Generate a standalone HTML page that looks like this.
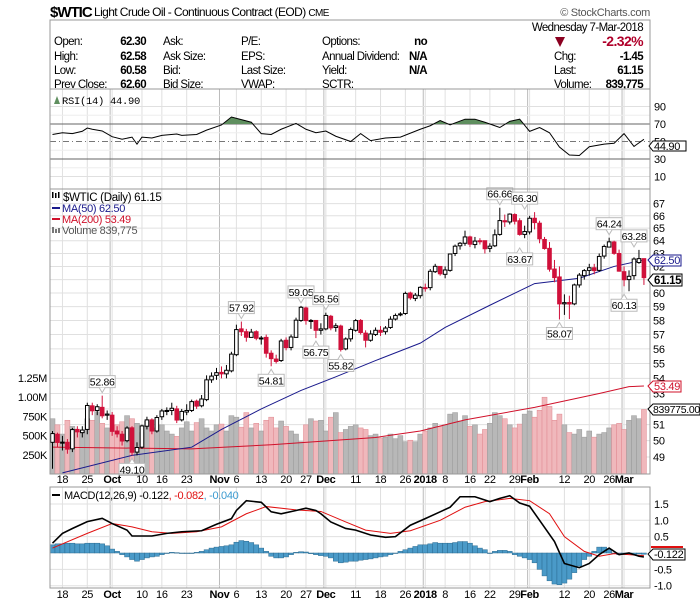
<!DOCTYPE html>
<html><head><meta charset="utf-8">
<style>
html,body{margin:0;padding:0;background:#fff;}
svg{display:block;font-family:"Liberation Sans Narrow","Liberation Sans",sans-serif;}
text{letter-spacing:-0.3px;}
.hdr text{letter-spacing:-0.6px;}
</style></head>
<body>
<svg id="chart" width="700" height="603" viewBox="0 0 700 603" xmlns="http://www.w3.org/2000/svg">
  <text x="50" y="17" font-size="15" font-weight="bold" font-family="Liberation Sans, sans-serif" style="letter-spacing:-1px">$WTIC</text>
  <text x="94" y="16" font-size="12" style="letter-spacing:-0.6px">Light Crude Oil - Continuous Contract (EOD) <tspan font-size="10">CME</tspan></text>
  <text x="650" y="16" font-size="11" fill="#555" text-anchor="end">© StockCharts.com</text>
  <rect x="50" y="20" width="600" height="69" fill="#fff" stroke="#999"/>
  <g class="hdr" font-size="11.5">
    <text x="643" y="31" text-anchor="end">Wednesday  7-Mar-2018</text>
    <text x="54" y="45">Open:</text><text x="146" y="45" text-anchor="end" font-weight="bold">62.30</text>
    <text x="54" y="60">High:</text><text x="146" y="60" text-anchor="end" font-weight="bold">62.58</text>
    <text x="54" y="74">Low:</text><text x="146" y="74" text-anchor="end" font-weight="bold">60.58</text>
    <text x="54" y="88">Prev Close:</text><text x="146" y="88" text-anchor="end" font-weight="bold">62.60</text>
    <text x="163" y="45">Ask:</text><text x="163" y="60">Ask Size:</text><text x="163" y="74">Bid:</text><text x="163" y="88">Bid Size:</text>
    <text x="241" y="45">P/E:</text><text x="241" y="60">EPS:</text><text x="241" y="74">Last Size:</text><text x="241" y="88">VWAP:</text>
    <text x="322" y="45">Options:</text><text x="322" y="60">Annual Dividend:</text><text x="322" y="74">Yield:</text><text x="322" y="88">SCTR:</text>
    <text x="427" y="45" text-anchor="end" font-weight="bold">no</text>
    <text x="427" y="60" text-anchor="end" font-weight="bold">N/A</text>
    <text x="427" y="74" text-anchor="end" font-weight="bold">N/A</text>
    <polygon points="555,37 565,37 560,47" fill="#8b0020"/>
    <text x="643" y="46" text-anchor="end" font-weight="bold" font-size="14" fill="#b0002a">-2.32%</text>
    <text x="554" y="60">Chg:</text><text x="643" y="60" text-anchor="end" font-weight="bold">-1.45</text>
    <text x="554" y="74">Last:</text><text x="643" y="74" text-anchor="end" font-weight="bold">61.15</text>
    <text x="554" y="88">Volume:</text><text x="643" y="88" text-anchor="end" font-weight="bold">839,775</text>
  </g>
  <g id="plots"></g>
</svg>
<script>
// ===== data =====
const openP = [49.9,50.4,49.9,49.9,49.5,50.7,50.5,50.7,52.2,51.9,52.1,51.6,
51.6,50.6,50.4,50.0,50.8,49.3,49.6,50.9,51.3,50.6,51.5,51.9,
51.9,52.0,51.3,51.8,51.9,52.5,52.2,52.6,53.9,54.2,54.4,54.3,
54.5,55.6,57.4,57.2,56.8,57.2,56.7,56.8,55.7,55.3,55.2,56.6,
56.1,56.8,58.0,58.9,58.0,58.0,57.3,57.4,58.3,57.5,57.6,56.0,
56.7,57.3,58.0,57.1,56.6,57.0,57.3,57.2,57.5,58.1,58.4,58.5,
60.0,59.6,59.8,60.4,60.4,61.6,62.0,61.4,61.7,63.0,63.6,63.8,
64.3,63.7,64.0,64.0,63.4,63.6,64.5,65.6,65.5,66.1,65.6,64.5,
64.7,65.8,65.4,64.1,63.4,61.8,61.2,59.2,59.3,59.2,60.6,61.3,
61.7,61.9,61.7,62.8,63.5,63.9,63.0,61.6,61.0,61.3,62.3,62.6];
const highP = [50.6,50.5,50.3,50.1,50.8,50.9,50.9,52.4,52.4,52.3,52.86,51.9,
51.8,50.9,50.6,50.9,50.9,49.9,51.0,51.5,51.4,51.6,52.0,52.1,
52.4,52.2,52.0,52.3,52.6,52.6,52.9,54.2,54.4,54.7,54.8,54.9,
55.8,57.7,57.92,57.4,57.4,57.3,56.9,57.0,55.9,55.6,56.7,56.8,
57.0,58.2,59.05,59.0,58.1,58.0,57.8,58.56,58.4,57.8,57.7,56.8,
57.5,58.1,58.1,57.3,57.3,57.5,57.6,57.6,58.3,58.5,58.6,60.1,
60.1,60.0,60.5,60.7,61.8,62.2,62.0,62.0,63.0,63.7,63.9,64.8,
64.4,64.3,64.2,64.0,63.8,64.9,66.66,66.1,66.2,66.2,65.8,65.2,
66.0,66.30,65.6,64.3,63.9,62.5,62.0,59.9,59.8,60.7,61.5,61.8,
62.2,62.2,63.0,63.7,64.24,64.0,63.3,62.0,61.7,62.7,63.28,62.6];
const lowP = [48.3,49.6,49.4,49.2,49.3,50.2,50.2,50.4,51.6,51.6,51.4,51.3,
50.3,50.2,49.7,49.9,49.10,49.1,49.5,50.7,50.4,50.5,51.3,51.6,
51.6,51.1,51.2,51.6,51.8,52.0,52.1,52.5,53.7,53.9,54.0,54.0,
54.4,55.5,56.9,56.5,56.8,56.6,56.3,55.4,54.81,55.0,55.1,55.9,
55.9,56.8,57.9,57.7,57.4,56.75,57.0,57.3,57.3,57.2,55.82,55.9,
56.5,57.2,57.0,56.1,56.5,56.9,56.9,57.0,57.4,58.0,58.3,58.4,
59.5,59.4,59.6,60.1,60.2,61.5,61.3,61.1,61.6,62.8,63.3,63.6,
63.5,63.4,63.7,63.0,63.1,63.5,64.4,65.1,65.3,65.3,64.4,64.2,
64.5,64.9,63.8,63.3,61.6,60.8,58.07,58.4,58.1,59.1,60.4,61.0,
61.3,61.4,61.6,62.6,63.5,62.9,61.6,60.5,60.13,61.0,62.2,60.6];
const closeP = [50.44,49.89,49.91,49.48,50.69,50.55,50.66,52.22,51.88,52.14,51.56,51.67,
50.58,50.42,49.98,50.79,49.29,49.58,50.92,51.30,50.60,51.45,51.87,51.88,
52.04,51.29,51.84,51.90,52.47,52.18,52.64,53.90,54.15,54.38,54.30,54.54,
55.64,57.35,57.20,56.81,57.17,56.74,56.76,55.70,55.33,55.14,56.55,56.09,
56.83,58.02,58.95,57.99,57.99,57.30,57.40,58.36,57.47,57.62,55.96,56.69,
57.36,57.99,57.14,56.60,57.04,57.30,57.16,57.46,58.09,58.36,58.47,59.97,
59.64,59.84,60.42,60.37,61.63,62.01,61.44,61.73,62.96,63.57,63.80,64.30,
63.73,63.97,63.95,63.37,63.57,64.47,65.61,65.51,66.14,65.56,64.50,64.73,
65.80,65.45,64.15,63.39,61.79,61.15,59.20,59.29,59.19,60.60,61.34,61.68,
61.90,61.68,62.77,63.55,63.91,63.01,61.64,60.99,61.25,62.57,62.60,61.15];
const volumeK = [720,640,520,700,620,560,530,720,700,810,660,600,
560,640,680,760,720,660,540,690,600,570,640,560,
520,490,600,680,560,670,720,600,560,640,650,560,
760,740,610,800,600,660,560,700,740,600,690,620,
560,520,420,640,720,690,700,560,740,800,540,580,
620,640,600,580,500,520,470,480,520,460,500,420,
440,420,520,560,600,660,620,640,780,800,690,760,
620,640,520,580,660,800,760,720,640,600,650,780,
820,740,830,1000,880,700,780,640,540,520,580,480,
560,480,520,540,600,640,660,580,700,760,720,840];
const ma50Idx = [2,16,28,34,42,50,57,65,74,79,88,97,106,113,119];
const ma50Val = [48.05,49.1,49.6,50.7,52.0,53.2,54.1,55.2,56.4,57.5,59.1,60.7,61.1,62.0,62.5];
const ma200Idx = [0,28,44,65,74,83,97,110,116,119];
const ma200Val = [49.6,49.5,49.75,50.2,50.6,51.3,52.1,53.0,53.45,53.49];
const rsiIdx = [0,2,4,6,7,8,10,12,14,16,17,18,20,22,25,26,29,31,34,36,38,40,42,44,46,49,51,53,55,57,60,62,64,67,70,74,76,78,80,83,85,87,90,92,94,96,98,100,102,104,106,108,111,113,115,117,119];
const rsiVal = [58,60,59,61.7,65.4,64,62,55.5,52.6,55,47,55,54,57,58.6,57,58,63,68.9,78,75,72,59,58,64,70.7,64,60,62,56,50,59,51,54,55,64,68,74,69,75.5,75.5,72,66,73,75.5,61.6,66,60,43.7,34.6,34,44,47,48,59,44.4,52.5];
const macdIdx = [0,2,4,7,10,12,15,16,20,23,26,30,33,36,37,39,42,44,46,49,51,53,54,56,59,61,64,67,69,72,75,78,80,82,85,88,90,92,94,96,98,101,103,106,108,110,112,114,116,118,119];
const macdVal = [0.30,0.6,0.75,0.96,1.06,0.9,0.7,0.52,0.52,0.6,0.65,0.68,0.88,1.05,1.3,1.6,1.55,1.26,1.2,1.3,1.37,1.3,1.2,0.95,0.75,0.7,0.55,0.48,0.5,0.85,1.05,1.26,1.4,1.72,1.72,1.57,1.67,1.75,1.53,1.43,1.0,0.35,-0.32,-0.45,-0.32,-0.05,0.15,-0.05,0.0,-0.1,-0.122];
const signalIdx = [0,7,12,16,20,24,29,34,39,43,49,54,59,63,68,72,78,83,87,92,96,100,103,107,110,113,119];
const signalVal = [0.15,0.6,0.9,0.8,0.65,0.6,0.65,0.8,1.2,1.42,1.32,1.27,0.95,0.7,0.6,0.68,1.0,1.4,1.57,1.67,1.6,1.2,0.5,0.05,-0.1,-0.02,-0.082];
const histVal = [.25,.28,.28,.3,.3,.28,.28,.3,.3,.3,.28,.22,
.12,.05,-.05,-.12,-.2,-.25,-.2,-.15,-.12,-.1,-.05,0,
.02,.01,0,-.01,0,.02,.05,.1,.15,.18,.2,.22,
.25,.33,.38,.36,.32,.25,.15,.05,-.1,-.15,-.15,-.12,
-.05,.02,.04,.03,-.02,-.05,-.08,-.1,-.15,-.25,-.3,-.28,
-.25,-.25,-.22,-.2,-.18,-.15,-.12,-.1,-.05,0,.05,.1,
.15,.2,.25,.25,.28,.32,.3,.3,.3,.32,.35,.35,
.3,.22,.15,.1,0,.05,.08,.08,.05,-.05,-.1,-.15,
-.2,-.3,-.5,-.7,-.85,-.95,-.97,-.92,-.8,-.6,-.4,-.2,
-.1,.05,.18,.18,.1,-.02,-.05,-.05,-.05,-.04,-.03,-.04];
const dateIdx = [2,7,12,18,22,27,37,42,47,51,55,61,66,71,75,79,84,88,93,96,103,108,112,115];
const dateText = ['18','25','Oct','10','16','23','6','13','20','27','Dec','11','18','26','2018','8','16','22','29','Feb','12','20','26','Mar'];
const monthIdx = [12,34,55,75,96,115];
const priceTicks = [49,50,51,52,53,54,55,56,57,58,59,60,61,62,63,64,65,66,67];
const volTicks = [250,500,750,1000,1250];
const volTickText = ['250K','500K','750K','1.00M','1.25M'];
const rsiTicks = [10,30,50,70,90];
const macdTicks = [-1.0,-0.5,0.5,1.0,1.5];
const macdTickText = ['-1.0','-0.5','0.5','1.0','1.5'];
const priceTagIdx = [10,16,38,44,50,53,58,55,90,95,94,102,112,115,117];
const priceTagVal = [52.86,49.10,57.92,54.81,59.05,56.75,55.82,58.56,66.66,66.30,63.67,58.07,64.24,60.13,63.28];
const priceTagUp = [1,0,1,0,1,0,0,1,1,1,0,0,1,0,1];

// ===== axes =====
const L=50,R=650;
const X = i => 52.5 + i*4.97;
const Y = v => 293 - (Math.log(v)-Math.log(60))*810;
const VY = k => 474 - k/1250*96;
const RY = v => 159 - (v-30)*0.875;
const MY = v => 553 - v*32.7;
const NS='http://www.w3.org/2000/svg';
const root=document.getElementById('plots');
function mk(tag,attrs,parent){const e=document.createElementNS(NS,tag);for(const k in attrs)e.setAttribute(k,attrs[k]);(parent||root).appendChild(e);return e;}

const panels=[[89,189,'rsi-panel'],[189,474,'price-panel'],[487,588,'macd-panel']];
panels.forEach(p=>{
  const r=mk('rect',{x:L,y:p[0],width:R-L,height:p[1]-p[0],fill:'#fff',stroke:'none'});
  
  
});
panels.forEach(p=>{
  dateIdx.forEach(i=>{
    const l=mk('line',{x1:X(i),x2:X(i),y1:p[0],y2:p[1],stroke:'#e0e0e0','stroke-width':1});
    
    
  });
  monthIdx.forEach(i=>{
    const l=mk('line',{x1:X(i)-2,x2:X(i)-2,y1:p[0],y2:p[1],stroke:'#bbb','stroke-width':1});
    
    
  });
});
priceTicks.forEach(v=>{
  const l=mk('line',{x1:L,x2:R,y1:Y(v),y2:Y(v),stroke:'#e0e0e0'});
  
  
  const t=mk('text',{x:653,y:Y(v)+4,'font-size':11});
  t.textContent=v;
  
  
});
rsiTicks.forEach(v=>{
  const major = v===30||v===70;
  const l=mk('line',{x1:L,x2:R,y1:RY(v),y2:RY(v),stroke:major?'#666':(v===50?'#777':'#e0e0e0'),'stroke-dasharray':v===50?'6,3,1,3':'none'});
  
  
  const t=mk('text',{x:654,y:RY(v)+4,'font-size':11});
  t.textContent=v;
  
  
});
[20,40,60,80].forEach(v=>{
  const l=mk('line',{x1:L,x2:R,y1:RY(v),y2:RY(v),stroke:'#eee'});
  
  
});
macdTicks.forEach((v,k)=>{
  const l=mk('line',{x1:L,x2:R,y1:MY(v),y2:MY(v),stroke:'#e0e0e0'});
  
  
  const t=mk('text',{x:654,y:MY(v)+4,'font-size':11});
  t.textContent=macdTickText[k];
  
  
});
volTicks.forEach((v,k)=>{
  const t=mk('text',{x:47,y:VY(v)+4,'font-size':11,'text-anchor':'end'});
  t.textContent=volTickText[k];
  
  
});

let rsiPts=rsiIdx.map((i,k)=>X(i)+','+RY(rsiVal[k])).join(' ');
const clip=mk('clipPath',{id:'above70'});
mk('rect',{x:L,y:89,width:R-L,height:RY(70)-89},clip);
const rf=mk('polygon',{points:X(rsiIdx[0])+','+RY(70)+' '+rsiPts+' '+X(rsiIdx[rsiIdx.length-1])+','+RY(70),fill:'#5f8f5f','clip-path':'url(#above70)'});


const rl=mk('polyline',{points:rsiPts,fill:'none',stroke:'#000','stroke-width':1});



volumeK.forEach((v,i)=>{
  const down = i>0 && closeP[i]<closeP[i-1];
  const b=mk('rect',{x:X(i)-2.5,y:VY(v),width:5,height:474-VY(v),fill:down?'#f0b8bc':'#b8b8b8',stroke:down?'#e08890':'#999','stroke-width':0.5});
  
  
});
const m2=mk('polyline',{points:ma200Idx.map((i,k)=>X(i)+','+Y(ma200Val[k])).join(' '),fill:'none',stroke:'#d0102a','stroke-width':1});


const m5=mk('polyline',{points:ma50Idx.map((i,k)=>X(i)+','+Y(ma50Val[k])).join(' '),fill:'none',stroke:'#1a1a8c','stroke-width':1});



closeP.forEach((c,i)=>{
  const o=openP[i], up=c>=o;
  const red = i>0 && c<closeP[i-1];
  const col = red?'#d0103a':'#000';
  const w=mk('line',{x1:X(i),x2:X(i),y1:Y(highP[i]),y2:Y(lowP[i]),stroke:col,'stroke-width':1});
  
  
  const top=Y(Math.max(o,c)), h=Math.max(1,Y(Math.min(o,c))-top);
  const b=mk('rect',{x:X(i)-1.8,y:top,width:3.6,height:h,fill:up?'#fff':col,stroke:col,'stroke-width':1});
  
  
});
priceTagIdx.forEach((i,k)=>{
  const v=priceTagVal[k], up=priceTagUp[k];
  const cx=X(i), ty = up ? Y(v)-20 : Y(v)+8;
  const g=mk('g',{});
  
  
  mk('rect',{x:cx-13,y:ty,width:26,height:12,fill:'#fff',stroke:'#bbb'},g);
  mk('polyline',{points:up?`${cx-3},${ty+12} ${cx},${ty+17} ${cx+3},${ty+12}`:`${cx-3},${ty} ${cx},${ty-5} ${cx+3},${ty}`,fill:'#fff',stroke:'#bbb'},g);
  const t=mk('text',{x:cx,y:ty+10,'font-size':10.5,'text-anchor':'middle'},g);
  t.textContent=v.toFixed(2);
});

histVal.forEach((v,i)=>{
  const y=Math.min(MY(0),MY(v)), h=Math.abs(MY(v)-MY(0));
  const b=mk('rect',{x:X(i)-2.5,y:y,width:5,height:Math.max(h,0.5),fill:'#4a9ac8',stroke:'#2a6a90','stroke-width':0.5});
  
  
});
const sg=mk('polyline',{points:signalIdx.map((i,k)=>X(i)+','+MY(signalVal[k])).join(' '),fill:'none',stroke:'#e01010','stroke-width':1});


const ml=mk('polyline',{points:macdIdx.map((i,k)=>X(i)+','+MY(macdVal[k])).join(' '),fill:'none',stroke:'#000','stroke-width':1.6});



panels.forEach(p=>{
  const r=mk('rect',{x:L,y:p[0],width:R-L,height:p[1]-p[0],fill:'none',stroke:'#999'});
  
  
});
[483,598].forEach(yy=>{
  dateIdx.forEach((i,k)=>{
    const bold=monthIdx.indexOf(i)>=0;
    const t=mk('text',{x:X(i),y:yy,'font-size':11,'text-anchor':'middle','font-weight':bold?'bold':'normal'});
    t.textContent=dateText[k];
    
    
  });
  const n=mk('text',{x:X(34)-2,y:yy,'font-size':11,'text-anchor':'middle','font-weight':'bold'});
  n.textContent='Nov';
  
  
});
</script>
<svg style="position:absolute;left:0;top:0" width="700" height="603" font-family="Liberation Sans Narrow, Liberation Sans, sans-serif">
  <g font-size="11">
    <polygon points="54,104 57,96 60,104" fill="#5f8f5f"/>
    <text x="62" y="104" font-family="Liberation Mono, monospace" font-size="10.5">RSI(14) 44.90</text>
  </g>
  <g>
    <polygon points="649,146 653,141 686,141 686,151 653,151" fill="#fff" stroke="#000"/>
    <text x="654" y="150" font-size="11">44.90</text>
  </g>
  <g font-size="11">
    <rect x="52" y="192" width="1.5" height="6" fill="#000"/><rect x="55" y="193" width="1.5" height="5" fill="#000"/><rect x="58" y="192" width="1.5" height="6" fill="#000"/>
    <text x="63" y="201" font-size="11.5">$WTIC (Daily) 61.15</text>
    <line x1="52" y1="208" x2="60" y2="208" stroke="#1a1a8c" stroke-width="2"/>
    <text x="62" y="212" fill="#1a1a8c">MA(50) 62.50</text>
    <line x1="52" y1="219" x2="60" y2="219" stroke="#d0102a" stroke-width="2"/>
    <text x="62" y="223" fill="#d0102a">MA(200) 53.49</text>
    <rect x="52" y="227" width="2" height="6" fill="#777"/><rect x="55" y="229" width="2" height="4" fill="#777"/><rect x="58" y="228" width="2" height="5" fill="#777"/>
    <text x="62" y="234" fill="#555">Volume 839,775</text>
  </g>
  <g>
    <polygon points="648,260 653,255 681,255 681,266 653,266" fill="#fff" stroke="#1a1a8c"/>
    <text x="654" y="264" font-size="11" fill="#1a1a8c">62.50</text>
  </g>
  <g>
    <polygon points="648,280 653,274 682,274 682,286 653,286" fill="#fff" stroke="#000"/>
    <text x="654" y="284" font-size="11.5" font-weight="bold">61.15</text>
  </g>
  <g>
    <polygon points="648,386 653,381 681,381 681,392 653,392" fill="#fff" stroke="#d0102a"/>
    <text x="654" y="390" font-size="11" fill="#d0102a">53.49</text>
  </g>
  <g>
    <polygon points="648,409 653,404 700,404 700,415 653,415" fill="#fff" stroke="#000"/>
    <text x="653" y="413" font-size="10.5">839775.00</text>
  </g>
  <g font-size="11">
    <line x1="52" y1="495" x2="60" y2="495" stroke="#000" stroke-width="2"/>
    <text x="64" y="499">MACD(12,26,9) -0.122<tspan fill="#e01010">, -0.082</tspan><tspan fill="#3a9ad0">, -0.040</tspan></text>
  </g>
  <g>
    <rect x="651" y="546" width="32" height="2" fill="#e01010"/>
    <polygon points="648,554 653,549 685,549 685,560 653,560" fill="#fff" stroke="#000"/>
    <text x="654" y="558" font-size="11">-0.122</text>
  </g>
</svg>
</body></html>
